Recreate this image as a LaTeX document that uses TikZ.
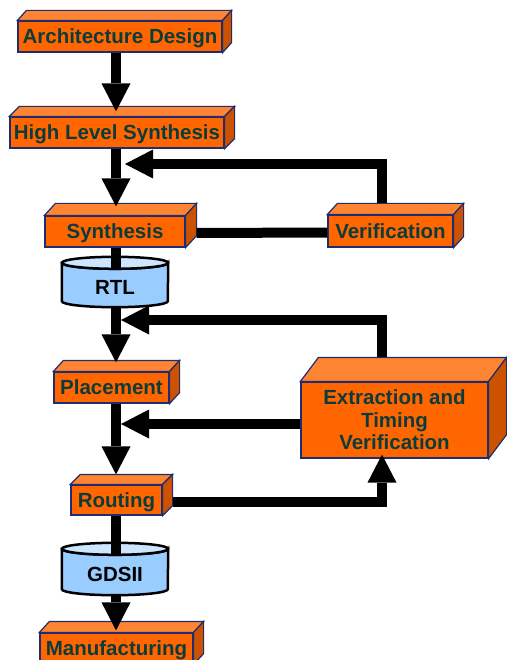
\documentclass[tikz,border=0pt]{standalone}
\usepackage{fontspec}
\setsansfont{Liberation Sans}
\usetikzlibrary{arrows.meta,calc,positioning,backgrounds}

\definecolor{boxfront}{HTML}{FF6600}
\definecolor{boxtop}{HTML}{FF8533}
\definecolor{boxside}{HTML}{CC5200}
\definecolor{boxline}{HTML}{1F2D6E}
\definecolor{boxtext}{HTML}{0D3B3B}
\definecolor{dbbody}{HTML}{99CCFF}
\definecolor{dbtop}{HTML}{CCE6FF}

\tikzset{
  block/.style={draw=boxline, line width=1.2pt, fill=boxfront, inner sep=0pt,
    text=boxtext, font=\sffamily\bfseries\fontsize{20.5}{22.5}\selectfont,
    text height=14.7pt, text depth=0pt},
  bigblock/.style={block, text height=, text depth=, align=center},
  topface/.style={draw=boxline, line width=1.2pt, fill=boxtop},
  sideface/.style={draw=boxline, line width=1.2pt, fill=boxside},
  dbnode/.style={inner sep=0pt, minimum width=106pt, text=black,
    font=\sffamily\bfseries\fontsize{20.5}{22.5}\selectfont,
    text height=24.7pt, text depth=0pt},
  dbshape/.style={draw=black, line width=2.5pt},
  flow/.style={line width=10pt, -{Triangle[length=28pt,width=29pt,line width=0pt]}},
  link/.style={line width=10pt}
}

% top and right faces of a block: name, dx, dy
\newcommand{\boxfaces}[3]{%
  \filldraw[topface] (#1.north west) -- ++(#2pt,#3pt) -- ([shift={(#2pt,#3pt)}]#1.north east) -- (#1.north east) -- cycle;
  \filldraw[sideface] (#1.north east) -- ++(#2pt,#3pt) -- ([shift={(#2pt,#3pt)}]#1.south east) -- (#1.south east) -- cycle;
}
% cylinder behind a database node
\newcommand{\dbfaces}[1]{%
  \begin{scope}[on background layer]
    \filldraw[dbshape, fill=dbbody] ([yshift=-6pt]#1.north west) -- ([yshift=6pt]#1.south west)
      arc[start angle=180, end angle=360, x radius=53pt, y radius=6pt]
      -- ([yshift=-6pt]#1.north east)
      arc[start angle=0, end angle=-180, x radius=53pt, y radius=6pt] -- cycle;
    \filldraw[dbshape, fill=dbtop] ([yshift=-6pt]#1.north) ellipse[x radius=53pt, y radius=6pt];
  \end{scope}
}

\begin{document}
\begin{tikzpicture}[x=1pt, y=-1pt]
\useasboundingbox (0,0) rectangle (506,660);
\coordinate (spine) at (116,0);

\node[block, minimum width=204pt, minimum height=31pt] (arch) at (120,36.5) {Architecture Design};
\boxfaces{arch}{9}{10}
\node[block, minimum width=214pt, minimum height=31pt] (hls) at (117,132.5) {High Level Synthesis};
\boxfaces{hls}{10}{10}
\node[block, minimum width=140pt, minimum height=31pt] (syn) at (115,231.5) {Synthesis};
\boxfaces{syn}{11}{12}
\node[block, minimum width=125pt, minimum height=32pt] (ver) at (390.5,231) {Verification};
\boxfaces{ver}{10}{11}
\node[block, minimum width=115pt, minimum height=31pt] (place) at (111.5,387.5) {Placement};
\boxfaces{place}{10}{11}
\node[bigblock, minimum width=187pt, minimum height=76pt] (extr) at (394.5,420) {Extraction and\\Timing\\Verification};
\boxfaces{extr}{18}{24}
\node[block, minimum width=91pt, minimum height=30pt] (route) at (116.5,500) {Routing};
\boxfaces{route}{10}{10}
\node[block, minimum width=153pt, minimum height=31pt] (manu) at (116.5,648.5) {Manufacturing};
\boxfaces{manu}{10}{11}

\node[dbnode, minimum height=50pt] (rtl) at (115,282) {RTL};
\dbfaces{rtl}
\node[dbnode, minimum height=52pt] (gds) at (115,569) {GDSII};
\dbfaces{gds}

\coordinate (hlsfb) at (125,164);
\coordinate (rtlfb) at (121,320);
\coordinate (placefb) at (121,424);

\draw[flow] (arch.south -| spine) -- ([yshift=5pt]hls.north -| spine);
\draw[flow] (hls.south -| spine) -- ([yshift=9pt]syn.north -| spine);
\draw[flow] ([shift={(-9pt,11pt)}]ver.north) |- (hlsfb);
\draw[link] ([shift={(11pt,-1.5pt)}]syn.east) -- ([yshift=-1.5pt]ver.west);
\draw[link] (syn.south -| spine) -- ([yshift=-11pt]rtl.north -| spine);
\draw[flow] (rtl.south -| spine) -- ([yshift=9pt]place.north -| spine);
\draw[flow] ([shift={(-12.5pt,24pt)}]extr.north) |- (rtlfb);
\draw[flow] (place.south -| spine) -- ([yshift=10pt]route.north -| spine);
\draw[flow] ([yshift=-4pt]extr.west) -- (placefb);
\draw[flow] ([shift={(10pt,-2pt)}]route.east) -| ([shift={(-12.5pt,4pt)}]extr.south);
\draw[link] (route.south -| spine) -- ([yshift=-12pt]gds.north -| spine);
\draw[flow] (gds.south -| spine) -- ([yshift=2pt]manu.north -| spine);
\end{tikzpicture}
\end{document}
